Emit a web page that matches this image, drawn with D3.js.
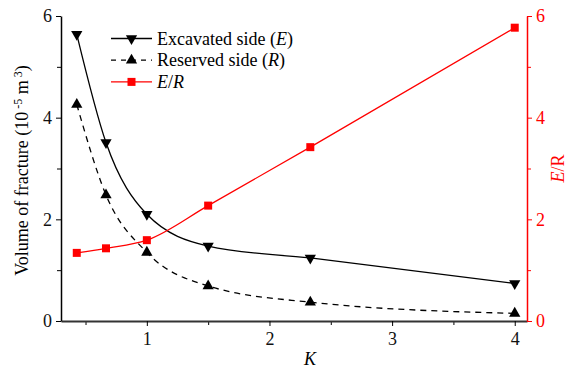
<!DOCTYPE html>
<html>
<head>
<meta charset="utf-8">
<script src="https://cdn.jsdelivr.net/npm/d3@7"></script>
<style>
  body { margin: 0; background: white; }
</style>
</head>
<body>
<div id="chart"></div>
<script>
// values
const kValues = [0.4286, 0.667, 1, 1.5, 2.333, 4];
const excavated = [5.64, 3.51, 2.10, 1.475, 1.24, 0.74];
const reserved = [4.26, 2.48, 1.35, 0.69, 0.37, 0.15];
const ratio = [1.34, 1.43, 1.59, 2.27, 3.42, 5.77];
const xTicks = [1, 2, 3, 4];
const yTicks = [0, 2, 4, 6];

const width = 567, height = 371;
const margin = {top: 16, right: 40, bottom: 50, left: 61};
const red = "#ff0000";
const serif = "Liberation Serif";
const fs = 18;

const svg = d3.select("#chart")
  .append("svg")
  .attr("width", width)
  .attr("height", height)
  .style("background-color", "white");

const xScale = d3.scaleLinear()
  .domain([0.3, 4.1])
  .range([margin.left, width - margin.right]);

const yLeft = d3.scaleLinear()
  .domain([0, 6])
  .range([height - margin.bottom, margin.top]);

const yRight = d3.scaleLinear()
  .domain([0, 6])
  .range([height - margin.bottom, margin.top]);

const y0 = height - margin.bottom;
const fmt = d3.format("d");

// minor ticks first, so the major ones draw on top
svg.append("g")
  .attr("transform", `translate(0,${y0})`)
  .call(d3.axisBottom(xScale).tickValues([0.5, 1.5, 2.5, 3.5]).tickSize(4).tickFormat(""))
  .call(g => g.select(".domain").remove());

svg.append("g")
  .attr("transform", `translate(${margin.left},0)`)
  .call(d3.axisLeft(yLeft).tickValues([1, 3, 5]).tickSize(4).tickFormat(""))
  .call(g => g.select(".domain").remove());

svg.append("g")
  .attr("transform", `translate(${width - margin.right},0)`)
  .call(d3.axisRight(yRight).tickValues([1, 3, 5]).tickSize(4).tickFormat(""))
  .call(g => g.select(".domain").remove())
  .call(g => g.selectAll("line").attr("stroke", red));

// x axis
const xAxis = svg.append("g")
  .attr("transform", `translate(0,${y0})`)
  .call(d3.axisBottom(xScale).tickValues(xTicks).tickFormat(fmt).tickSize(5).tickSizeOuter(0).tickPadding(6));
xAxis.select(".domain").attr("stroke", "#333").attr("stroke-width", 2);
xAxis.selectAll("text").attr("font-family", serif).attr("font-size", fs).attr("fill", "#111");

// left axis
const leftAxis = svg.append("g")
  .attr("transform", `translate(${margin.left},0)`)
  .call(d3.axisLeft(yLeft).tickValues(yTicks).tickFormat(fmt).tickSize(5).tickSizeOuter(0).tickPadding(4));
leftAxis.select(".domain").attr("stroke-width", 1.5);
leftAxis.selectAll("text").attr("font-family", serif).attr("font-size", fs).attr("fill", "#111");

// right axis, red
const rightAxis = svg.append("g")
  .attr("transform", `translate(${width - margin.right},0)`)
  .call(d3.axisRight(yRight).tickValues(yTicks).tickFormat(fmt).tickSize(5).tickSizeOuter(0).tickPadding(4));
rightAxis.select(".domain").attr("stroke", red).attr("stroke-width", 1.5);
rightAxis.selectAll("line").attr("stroke", red);
rightAxis.selectAll("text").attr("font-family", serif).attr("font-size", fs).attr("fill", red);

// axis titles
svg.append("text")
  .attr("x", xScale(2.33))
  .attr("y", 365)
  .attr("text-anchor", "middle")
  .attr("font-family", serif)
  .attr("font-size", fs)
  .attr("font-style", "italic")
  .text("K");

const yTitle = svg.append("text")
  .attr("transform", `translate(28,${(margin.top + y0) / 2 + 2}) rotate(-90)`)
  .attr("text-anchor", "middle")
  .attr("font-family", serif)
  .attr("font-size", fs);
yTitle.append("tspan").text("Volume of fracture (10");
yTitle.append("tspan").attr("dy", -6).attr("font-size", 12).text(" -5");
yTitle.append("tspan").attr("dy", 6).text(" m");
yTitle.append("tspan").attr("dy", -6).attr("font-size", 12).text(" 3");
yTitle.append("tspan").attr("dy", 6).text(")");

const rTitle = svg.append("text")
  .attr("transform", `translate(564,${(margin.top + y0) / 2}) rotate(-90)`)
  .attr("text-anchor", "middle")
  .attr("font-family", serif)
  .attr("font-size", fs)
  .attr("fill", red);
rTitle.append("tspan").attr("font-style", "italic").text("E");
rTitle.append("tspan").text("/R");

// lines
const makeLine = (vals, scale) => d3.line()
  .x((d, i) => xScale(kValues[i]))
  .y(d => scale(d))
  .curve(d3.curveMonotoneX)(vals);

svg.append("path")
  .attr("d", makeLine(excavated, yLeft))
  .attr("fill", "none")
  .attr("stroke", "black")
  .attr("stroke-width", 1.3);

svg.append("path")
  .attr("d", makeLine(reserved, yLeft))
  .attr("fill", "none")
  .attr("stroke", "black")
  .attr("stroke-width", 1.3)
  .attr("stroke-dasharray", "6,5");

svg.append("path")
  .attr("d", makeLine(ratio, yRight))
  .attr("fill", "none")
  .attr("stroke", red)
  .attr("stroke-width", 1.3);

// markers
const tri = d3.symbol().type(d3.symbolTriangle).size(55);
svg.selectAll(".exc")
  .data(excavated)
  .enter().append("path")
  .attr("d", tri)
  .attr("transform", (d, i) => `translate(${xScale(kValues[i])},${yLeft(d)}) rotate(180)`)
  .attr("fill", "black");

svg.selectAll(".res")
  .data(reserved)
  .enter().append("path")
  .attr("d", tri)
  .attr("transform", (d, i) => `translate(${xScale(kValues[i])},${yLeft(d)})`)
  .attr("fill", "black");

svg.selectAll(".rat")
  .data(ratio)
  .enter().append("rect")
  .attr("x", (d, i) => xScale(kValues[i]) - 4)
  .attr("y", d => yRight(d) - 4)
  .attr("width", 8)
  .attr("height", 8)
  .attr("fill", red);

// legend
const legendItems = [
  {label: ["Excavated side (", "E", ")"], stroke: "black", dash: null, marker: "down"},
  {label: ["Reserved side (", "R", ")"], stroke: "black", dash: "5,5", marker: "up"},
  {label: ["", "E", "/", "R", ""], stroke: red, dash: null, marker: "square"}
];

const legend = svg.append("g");
legendItems.forEach((item, i) => {
  const ly = 38.5 + i * 21.7;
  const g = legend.append("g").attr("transform", `translate(0,${ly})`);
  g.append("line")
    .attr("x1", 111).attr("x2", 152)
    .attr("stroke", item.stroke)
    .attr("stroke-width", 1.3)
    .attr("stroke-dasharray", item.dash);
  if (item.marker === "square") {
    g.append("rect").attr("x", 127.5).attr("y", -4).attr("width", 8).attr("height", 8).attr("fill", red);
  } else {
    g.append("path")
      .attr("d", tri)
      .attr("transform", `translate(131.5,0)${item.marker === "down" ? " rotate(180)" : ""}`)
      .attr("fill", "black");
  }
  const t = g.append("text")
    .attr("x", 157)
    .attr("y", 6)
    .attr("font-family", serif)
    .attr("font-size", fs);
  item.label.forEach((s, j) => {
    t.append("tspan").attr("font-style", j % 2 === 1 ? "italic" : null).text(s);
  });
});
</script>
</body>
</html>
